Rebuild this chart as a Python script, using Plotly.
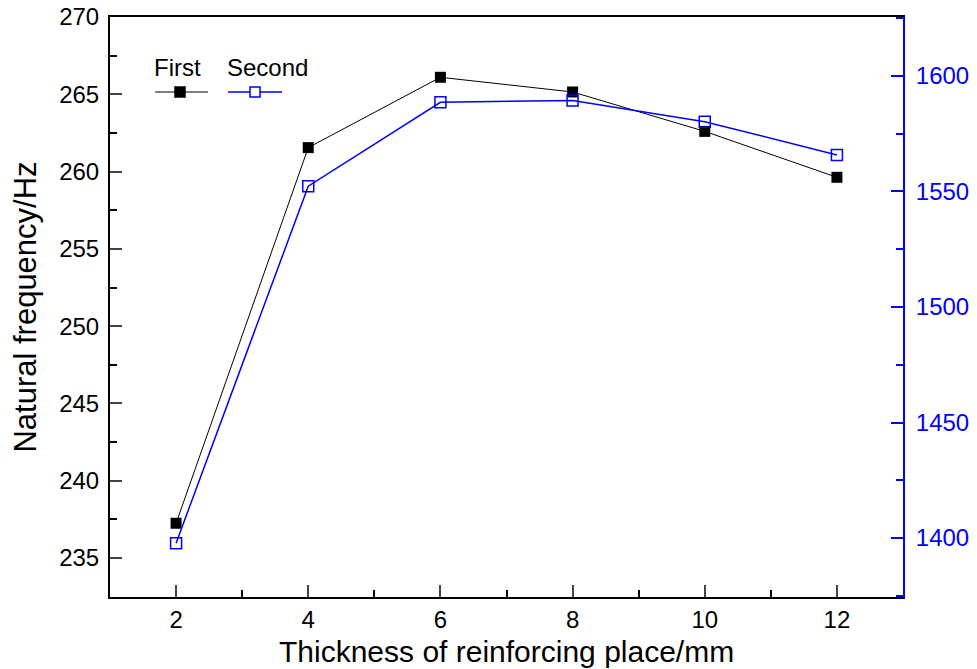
import plotly.graph_objects as go

thickness = [2, 4, 6, 8, 10, 12]
first_freq = [237.25, 261.55, 266.1, 265.15, 262.6, 259.63]
second_freq = [1397.8, 1552.3, 1588.6, 1589.4, 1580.2, 1565.8]

FONT = "Liberation Sans, Arial, sans-serif"
BLUE = "#0000ff"

fig = go.Figure()
fig.add_trace(go.Scatter(
    x=thickness, y=first_freq, mode="lines+markers", name="First",
    line=dict(color="black", width=1),
    marker=dict(symbol="square", size=11, color="black"),
    yaxis="y", showlegend=False))
fig.add_trace(go.Scatter(
    x=thickness, y=second_freq, mode="lines+markers", name="Second",
    line=dict(color=BLUE, width=1.5),
    marker=dict(symbol="square-open", size=11, color=BLUE, line=dict(width=1.5)),
    yaxis="y2", showlegend=False))

fig.update_layout(
    width=977, height=669,
    margin=dict(l=110, r=74, t=17, b=72),
    paper_bgcolor="white", plot_bgcolor="white",
    font=dict(family=FONT, size=24, color="black"),
    xaxis=dict(
        range=[1, 13], tickvals=thickness, ticks="inside", ticklen=12, tickwidth=2,
        minor=dict(tickvals=[3, 5, 7, 9, 11], ticks="inside", ticklen=7, tickwidth=2, tickcolor="black"),
        showline=True, linecolor="black", linewidth=2, mirror=True,
        showgrid=False, zeroline=False, automargin=False,
        tickfont=dict(size=24), ticklabelstandoff=0,
    ),
    yaxis=dict(
        range=[232.48, 270], tickvals=[235, 240, 245, 250, 255, 260, 265, 270],
        ticks="inside", ticklen=12, tickwidth=2,
        minor=dict(tickvals=[237.5, 242.5, 247.5, 252.5, 257.5, 262.5, 267.5],
                   ticks="inside", ticklen=7, tickwidth=2, tickcolor="black"),
        showline=True, linecolor="black", linewidth=2,
        showgrid=False, zeroline=False, automargin=False, tickfont=dict(size=24),
        ticklabelstandoff=4,
        title=dict(text="Natural frequency/Hz", font=dict(size=31), standoff=13),
    ),
    yaxis2=dict(
        range=[1374.5, 1625.5], overlaying="y", side="right",
        tickvals=[1400, 1450, 1500, 1550, 1600],
        ticks="inside", ticklen=12, tickwidth=2, tickcolor=BLUE,
        minor=dict(tickvals=[1375, 1425, 1475, 1525, 1575, 1625],
                   ticks="inside", ticklen=7, tickwidth=2, tickcolor=BLUE),
        showline=True, linecolor=BLUE, linewidth=2,
        showgrid=False, zeroline=False, automargin=False,
        tickfont=dict(size=24, color=BLUE), ticklabelstandoff=6,
    ),
)

# Pixel-offset helpers for paper coords
W, H = 977 - 110 - 74, 669 - 17 - 72
def px(x):
    return (x - 110) / W
def py(y):
    return 1 - (y - 17) / H

fig.add_annotation(xref="paper", yref="paper", x=px(506), y=py(651),
                   text="Thickness of reinforcing place/mm", showarrow=False,
                   xanchor="center", yanchor="middle", font=dict(size=30, color="black"))

# Legend drawn manually (text above line samples)
legend_items = [("First", 155, 208, 180, "black", "black", 1),
                ("Second", 228, 282, 255, BLUE, "white", 1.5)]
for label, x0, x1, xm, col, fill, lw in legend_items:
    fig.add_shape(type="line", xref="paper", yref="paper",
                  x0=px(x0), x1=px(x1), y0=py(92), y1=py(92),
                  line=dict(color=col, width=lw))
    fig.add_shape(type="rect", xref="paper", yref="paper",
                  x0=px(xm - 5), x1=px(xm + 5), y0=py(87), y1=py(97),
                  line=dict(color=col, width=1.5), fillcolor=fill)
    fig.add_annotation(xref="paper", yref="paper", x=px(x0 - 3), y=py(67),
                       text=label, showarrow=False, xanchor="left", yanchor="middle",
                       font=dict(size=24, color="black"))

fig.write_html("out.html")
